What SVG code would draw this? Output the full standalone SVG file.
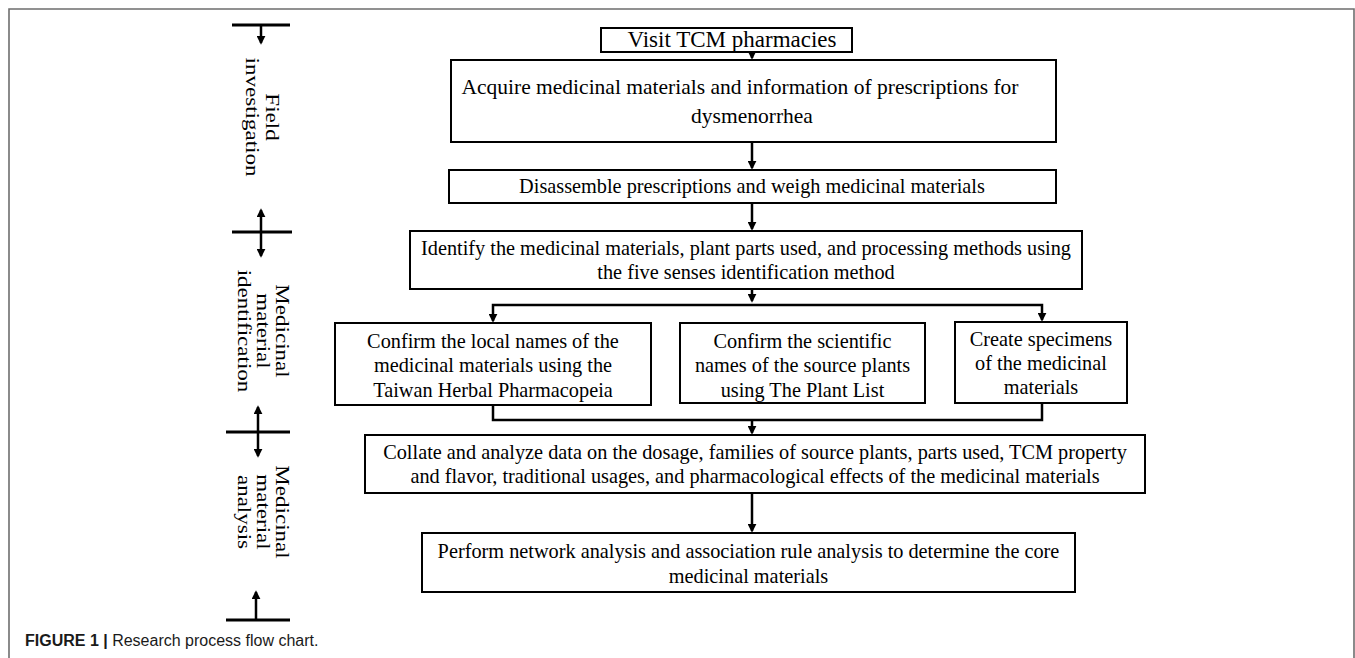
<svg xmlns="http://www.w3.org/2000/svg" width="1355" height="658" viewBox="0 0 1355 658">
<defs>
<marker id="ah" viewBox="0 0 10 10" refX="8" refY="5" markerWidth="9" markerHeight="9" markerUnits="userSpaceOnUse" orient="auto-start-reverse"><path d="M0,0 L10,5 L0,10 z" fill="#000"/></marker>
</defs>
<style>
.box{fill:#fff;stroke:#000;stroke-width:2}
.t{font-family:"Liberation Serif","Times New Roman",serif;font-size:20.3px;fill:#000;text-anchor:middle}
.lab{font-family:"Liberation Serif","Times New Roman",serif;font-size:18px;fill:#000;text-anchor:middle}
.con{fill:none;stroke:#000;stroke-width:2.5}
.arr{marker-end:url(#ah)}
.both{marker-start:url(#ah);marker-end:url(#ah)}
.tm{fill:none;stroke:#000;stroke-width:3}
.frame{fill:none;stroke:#6e6e6e;stroke-width:1.6}
.cap{font-family:"Liberation Sans",Arial,sans-serif;font-size:16px;fill:#1a1a1a}
</style>
<rect width="1355" height="658" fill="#fff"/>
<path class="frame" d="M9,658 V9 H1354 V658"/>

<g id="stage-markers">
<path class="tm" d="M232,25 H290"/>
<path class="con arr" d="M261,25 V43"/>
<path class="tm" d="M232,232 H292"/>
<path class="con both" d="M261,210 V256"/>
<path class="tm" d="M226,432 H290"/>
<path class="con both" d="M258,407 V456"/>
<path class="tm" d="M226,620 H290"/>
<path class="con arr" d="M256,620 V592"/>
</g>

<g id="label-field" transform="translate(262,117) rotate(90) scale(1.28,1)">
<text class="lab" x="0" y="-4">Field</text>
<text class="lab" x="0" y="16">investigation</text>
</g>
<g id="label-identification" transform="translate(263,331) rotate(90) scale(1.28,1)">
<text class="lab" x="0" y="-13">Medicinal</text>
<text class="lab" x="0" y="6">material</text>
<text class="lab" x="0" y="25">identification</text>
</g>
<g id="label-analysis" transform="translate(263,512) rotate(90) scale(1.28,1)">
<text class="lab" x="0" y="-13">Medicinal</text>
<text class="lab" x="0" y="6">material</text>
<text class="lab" x="0" y="25">analysis</text>
</g>

<g id="connectors">
<path class="con arr" d="M752,52 V58"/>
<path class="con arr" d="M752,142 V168"/>
<path class="con arr" d="M752,203 V229"/>
<path class="con arr" d="M752,289 V301"/>
<path class="con arr" d="M752,305 H493 V321"/>
<path class="con arr" d="M752,305 H1042 V320"/>
<path class="con" d="M493,405 V420 H1042 V403"/>
<path class="con arr" d="M752,420 V433"/>
<path class="con arr" d="M752,493 V531"/>
</g>

<g id="n1">
<rect class="box" x="601" y="28" width="251" height="24"/>
<text class="t" x="732" y="46.5" style="font-size:23px">Visit TCM pharmacies</text>
</g>
<g id="n2">
<rect class="box" x="451" y="60" width="605" height="82"/>
<text class="t" x="740" y="94" style="font-size:21.5px">Acquire medicinal materials and information of prescriptions for</text>
<text class="t" x="752" y="123" style="font-size:21.5px">dysmenorrhea</text>
</g>
<g id="n3">
<rect class="box" x="449" y="170" width="607" height="33"/>
<text class="t" x="752" y="193">Disassemble prescriptions and weigh medicinal materials</text>
</g>
<g id="n4">
<rect class="box" x="410" y="231" width="672" height="58"/>
<text class="t" x="746" y="255">Identify the medicinal materials, plant parts used, and processing methods using</text>
<text class="t" x="746" y="279">the five senses identification method</text>
</g>
<g id="n5">
<rect class="box" x="335" y="323" width="316" height="82"/>
<text class="t" x="493" y="348">Confirm the local names of the</text>
<text class="t" x="493" y="372">medicinal materials using the</text>
<text class="t" x="493" y="397">Taiwan Herbal Pharmacopeia</text>
</g>
<g id="n6">
<rect class="box" x="680" y="323" width="245" height="80"/>
<text class="t" x="802.5" y="348">Confirm the scientific</text>
<text class="t" x="802.5" y="372">names of the source plants</text>
<text class="t" x="802.5" y="397">using The Plant List</text>
</g>
<g id="n7">
<rect class="box" x="955" y="322" width="172" height="81"/>
<text class="t" x="1041" y="346">Create specimens</text>
<text class="t" x="1041" y="370">of the medicinal</text>
<text class="t" x="1041" y="394">materials</text>
</g>
<g id="n8">
<rect class="box" x="365" y="435" width="780" height="58"/>
<text class="t" x="755" y="459">Collate and analyze data on the dosage, families of source plants, parts used, TCM property</text>
<text class="t" x="755" y="483">and flavor, traditional usages, and pharmacological effects of the medicinal materials</text>
</g>
<g id="n9">
<rect class="box" x="422" y="533" width="653" height="59"/>
<text class="t" x="748.5" y="558">Perform network analysis and association rule analysis to determine the core</text>
<text class="t" x="748.5" y="583">medicinal materials</text>
</g>

<text class="cap" x="25" y="646"><tspan font-weight="bold">FIGURE 1 |</tspan> Research process flow chart.</text>
</svg>
